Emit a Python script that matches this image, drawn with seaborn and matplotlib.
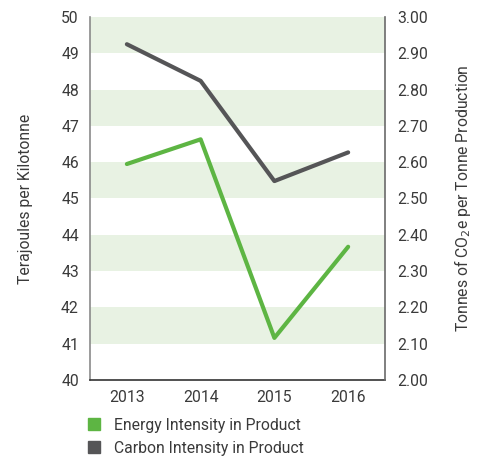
import pandas as pd
import matplotlib.pyplot as plt
import seaborn as sns
from matplotlib.lines import Line2D

years = [2013, 2014, 2015, 2016]
energy = [45.95, 46.63, 41.16, 43.67]   # Terajoules per Kilotonne (left)
carbon = [2.925, 2.824, 2.548, 2.627]   # t CO2e per t (right)
left_ticks = list(range(40, 51))
right_ticks = [2.0 + 0.1 * i for i in range(11)]

green = '#5db543'
dark = '#555557'
band = '#e8f2e3'
txt = '#3a3a3a'
fs = 11.3

sns.set_theme(style='white')
plt.rcParams['font.family'] = ['Roboto', 'DejaVu Sans']
plt.rcParams['text.color'] = txt
plt.rcParams['axes.labelcolor'] = txt
plt.rcParams['xtick.color'] = txt
plt.rcParams['ytick.color'] = txt

df = pd.DataFrame({'year': years, 'energy': energy, 'carbon': carbon})

fig = plt.figure(figsize=(4.82, 4.57), dpi=100)
ax = fig.add_axes([0.1867, 0.1685, 0.6121, 0.7943])
ax2 = ax.twinx()

# alternating bands
for lo in range(41, 50, 2):
    ax.axhspan(lo, lo + 1, color=band, lw=0, zorder=0)

sns.lineplot(data=df, x='year', y='energy', ax=ax, color=green, lw=3.0, zorder=3)
sns.lineplot(data=df, x='year', y='carbon', ax=ax2, color=dark, lw=3.0, zorder=3)

ax.set_xlim(2012.5, 2016.5)
ax.set_ylim(40, 50)
ax2.set_ylim(2.0, 3.0)
ax.set_xticks(years)
ax.set_xticklabels([str(y) for y in years])
ax.set_yticks(left_ticks)
ax2.set_yticks(right_ticks)
ax2.set_yticklabels([f'{v:.2f}' for v in right_ticks])

ax.tick_params(axis='both', length=0, labelsize=fs)
ax.tick_params(axis='y', pad=8)
ax.tick_params(axis='x', pad=7)
ax2.tick_params(axis='y', length=0, labelsize=fs, pad=9)

ax.set_xlabel('')
ax.set_ylabel('Terajoules per Kilotonne', fontsize=fs, labelpad=20)
ax2.set_ylabel(r'Tonnes of CO$_2$e per Tonne Production', fontsize=fs, labelpad=17)

for a in (ax, ax2):
    a.spines['top'].set_visible(False)
ax.spines['left'].set_color('#8a8a8a')
ax2.spines['left'].set_visible(False)
ax2.spines['right'].set_color('#6a6a6a')
ax.spines['right'].set_visible(False)
ax2.spines['bottom'].set_visible(False)
ax.spines['bottom'].set_color('#333333')
for s in ('left', 'bottom'):
    ax.spines[s].set_linewidth(1.2)
ax2.spines['right'].set_linewidth(1.2)

handles = [Line2D([], [], marker='s', ls='', color=green, markersize=9),
           Line2D([], [], marker='s', ls='', color=dark, markersize=9)]
fig.legend(handles, ['Energy Intensity in Product', 'Carbon Intensity in Product'],
           loc='upper left', bbox_to_anchor=(0.163, 0.103), frameon=False,
           fontsize=fs, handlelength=1.0, handletextpad=0.75, labelspacing=0.5,
           borderpad=0)

fig.savefig('out.png', dpi=100)
